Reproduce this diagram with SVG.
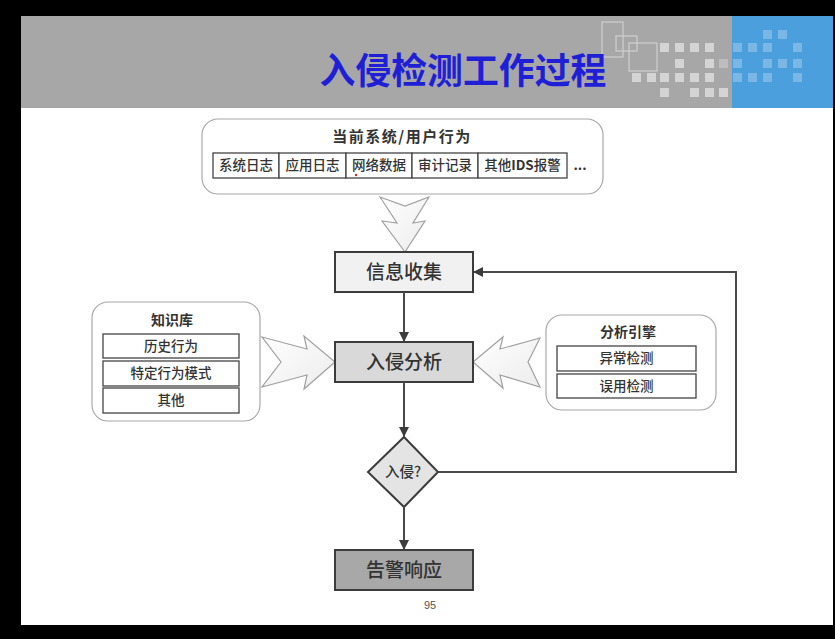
<svg xmlns="http://www.w3.org/2000/svg" width="835" height="639" viewBox="0 0 835 639">
<defs>
<style>
.t{font-family:"Noto Sans CJK SC","Noto Sans",sans-serif;fill:#333;text-anchor:middle}
.m{font-weight:500}
.b{font-weight:bold}
.box{stroke:#3c3c3c;stroke-width:2}
.grp{fill:#fff;stroke:#a8a8a8;stroke-width:1.2}
.cell{fill:#fff;stroke:#444;stroke-width:1.3}
.big{fill:url(#bg);stroke:#a0a0a0;stroke-width:1.2}
.conn{fill:none;stroke:#4a4a4a;stroke-width:2}
.sq{fill:#d4d4d4}
.bsq{fill:#7bb7e4}
.ol{fill:none;stroke:#cfcfcf;stroke-width:1.2}
</style>
<linearGradient id="bg" x1="0" y1="0" x2="1" y2="1">
<stop offset="0" stop-color="#ffffff"/>
<stop offset="1" stop-color="#ececec"/>
</linearGradient>
<marker id="ah" markerWidth="10" markerHeight="10" refX="9" refY="5" orient="auto" markerUnits="userSpaceOnUse">
<path d="M0,0 L10,5 L0,10 z" fill="#3c3c3c"/>
</marker>
</defs>
<rect x="0" y="0" width="835" height="639" fill="#000"/>
<rect x="21" y="16" width="812" height="609" fill="#fff"/>
<rect x="21" y="16" width="812" height="92" fill="#a7a7a7"/>
<rect x="732" y="16" width="101" height="92" fill="#4b9fdc"/>
<g id="header-decor">
<rect class="ol" x="602" y="22" width="21" height="35"/>
<rect class="ol" x="616" y="36" width="21" height="15"/>
<rect class="ol" x="629" y="43" width="28" height="28"/>
<rect class="sq" x="660" y="43" width="9" height="9"/><rect class="sq" x="675" y="43" width="9" height="9"/><rect class="sq" x="690" y="43" width="9" height="9"/><rect class="sq" x="705" y="43" width="9" height="9"/>
<rect class="sq" x="675" y="59" width="9" height="9"/><rect class="sq" x="705" y="59" width="9" height="9"/><rect x="719" y="59" width="9" height="9" fill="#bdbdbd"/>
<rect class="sq" x="632" y="73" width="9" height="9"/><rect class="sq" x="647" y="73" width="9" height="9"/><rect class="sq" x="660" y="73" width="9" height="9"/><rect class="sq" x="675" y="73" width="9" height="9"/><rect class="sq" x="690" y="73" width="9" height="9"/><rect class="sq" x="705" y="73" width="9" height="9"/>
<rect class="sq" x="660" y="88" width="9" height="9"/><rect class="sq" x="690" y="88" width="9" height="9"/><rect class="sq" x="705" y="88" width="9" height="9"/><rect class="sq" x="719" y="88" width="9" height="9"/>
<rect class="bsq" x="763" y="30" width="9" height="9"/><rect class="bsq" x="778" y="30" width="9" height="9"/>
<rect class="bsq" x="733" y="43" width="9" height="9"/><rect class="bsq" x="748" y="43" width="9" height="9"/><rect class="bsq" x="763" y="43" width="9" height="9"/><rect class="bsq" x="793" y="43" width="9" height="9"/>
<rect class="bsq" x="733" y="59" width="9" height="9"/><rect class="bsq" x="763" y="59" width="9" height="9"/><rect class="bsq" x="778" y="59" width="9" height="9"/><rect class="bsq" x="793" y="59" width="9" height="9"/>
<rect class="bsq" x="733" y="73" width="9" height="9"/><rect class="bsq" x="748" y="73" width="9" height="9"/><rect class="bsq" x="763" y="73" width="9" height="9"/><rect class="bsq" x="793" y="73" width="9" height="9"/>
</g>
<text class="t" x="463" y="84" font-size="36" font-weight="bold" style="fill:#1f1fd6" textLength="287" lengthAdjust="spacingAndGlyphs">入侵检测工作过程</text>

<g id="sources">
<rect class="grp" x="202" y="119" width="401" height="75" rx="16"/>
<text class="t b" x="402" y="142" font-size="15" letter-spacing="1.5">当前系统/用户行为</text>
<rect class="cell" x="213" y="153" width="66" height="25"/>
<rect class="cell" x="279" y="153" width="67" height="25"/>
<rect class="cell" x="346" y="153" width="66" height="25"/>
<rect class="cell" x="412" y="153" width="66" height="25"/>
<rect class="cell" x="478" y="153" width="89" height="25"/>
<text class="t m" x="246" y="170" font-size="13.5">系统日志</text>
<text class="t m" x="312.5" y="170" font-size="13.5">应用日志</text>
<text class="t m" x="379" y="170" font-size="13.5">网络数据</text>
<text class="t m" x="445" y="170" font-size="13.5">审计记录</text>
<text class="t m" x="522.5" y="170" font-size="13.5">其他<tspan font-weight="bold">IDS</tspan>报警</text>
<text class="t b" x="580" y="170" font-size="13.5">...</text>
<circle cx="356" cy="175" r="1.2" fill="#e02020"/>
</g>

<g id="knowledge">
<rect class="grp" x="92" y="302" width="168" height="119" rx="16"/>
<text class="t b" x="172" y="325" font-size="14">知识库</text>
<rect class="cell" x="103" y="334" width="136" height="24"/>
<rect class="cell" x="103" y="361" width="136" height="25"/>
<rect class="cell" x="103" y="388" width="136" height="25"/>
<text class="t m" x="171" y="351" font-size="13.5">历史行为</text>
<text class="t m" x="171" y="378" font-size="13.5">特定行为模式</text>
<text class="t m" x="171" y="405" font-size="13.5">其他</text>
</g>

<g id="engine">
<rect class="grp" x="546" y="315" width="170" height="95" rx="16"/>
<text class="t b" x="628" y="337" font-size="14">分析引擎</text>
<rect class="cell" x="557" y="346" width="139" height="25"/>
<rect class="cell" x="557" y="374" width="139" height="24"/>
<text class="t m" x="626.5" y="363" font-size="13.5">异常检测</text>
<text class="t m" x="626.5" y="391" font-size="13.5">误用检测</text>
</g>

<g id="big-arrows">
<path class="big" d="M380,197 L405,206 L429,197 L413,223 L425,221 L405,252 L382,221 L397,223 Z"/>
<path class="big" d="M262,337 L307,349 L304,336 L335,362 L304,389 L307,375 L262,387 L281,362 Z"/>
<path class="big" d="M540,338 L500,349 L503,337 L473,362 L503,388 L500,375 L540,387 L528,362 Z"/>
</g>

<g id="collect">
<rect class="box" x="335" y="252" width="138" height="40" fill="#f1f1f1"/>
<text class="t m" x="404" y="279" font-size="19">信息收集</text>
</g>
<g id="analyze">
<rect class="box" x="335" y="342" width="138" height="40" fill="#d9d9d9"/>
<text class="t m" x="404" y="369" font-size="19">入侵分析</text>
</g>
<g id="decision">
<path class="box" d="M404,437 L438,472 L404,507 L368,472 Z" fill="#e4e4e4"/>
<text class="t m" x="403" y="477" font-size="14.5">入侵?</text>
</g>
<g id="alarm">
<rect class="box" x="335" y="550" width="138" height="40" fill="#a8a8a8"/>
<text class="t m" x="404" y="577" font-size="19">告警响应</text>
</g>

<g id="connectors">
<path class="conn" d="M404,292 V341" marker-end="url(#ah)"/>
<path class="conn" d="M404,382 V436" marker-end="url(#ah)"/>
<path class="conn" d="M404,507 V549" marker-end="url(#ah)"/>
<path class="conn" d="M438,472 H736 V272 H474" marker-end="url(#ah)"/>
</g>

<text x="430" y="609" font-size="11" text-anchor="middle" font-family="Liberation Sans, sans-serif" fill="#555">95</text>
</svg>
